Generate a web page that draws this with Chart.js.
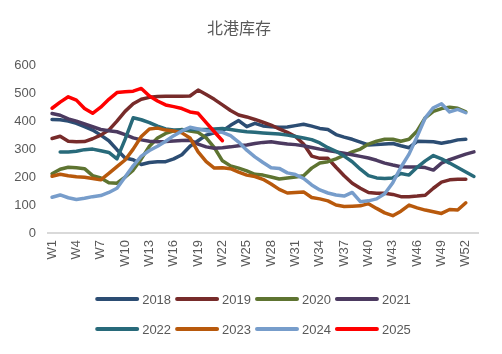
<!DOCTYPE html>
<html>
<head>
<meta charset="utf-8">
<script src="https://cdn.jsdelivr.net/npm/chart.js@4/dist/chart.umd.min.js"></script>
<style>
html, body { margin: 0; padding: 0; background: #fff; }
</style>
</head>
<body>
<canvas id="chart" width="502" height="354"></canvas>
<script>
// weeks W1..W53, only every third one gets a tick label
const weeks = [];
for (let i = 1; i <= 53; i++) weeks.push('W' + i);

const years = ['2018', '2019', '2020', '2021', '2022', '2023', '2024', '2025'];
const colors = ['#2C4D73', '#772B2A', '#5E7431', '#4C3A60', '#286A7A', '#B8590C', '#779DCB', '#FF0000'];

const y2018 = [406,405,400,392,380,368,350,330,298,268, 262,245,252,255,255,265,280,310,330,350,
  358,365,385,402,380,392,383,380,378,379, 384,389,382,374,370,352,343,335,325,315,
  316,318,320,312,305,328,327,326,321,326, 333,335];
const y2019 = [338,346,328,326,327,337,350,368,400,435, 462,478,485,488,489,489,489,490,511,495,
  478,458,438,422,415,406,396,386,372,360, 345,318,275,267,267,235,205,178,160,145,
  142,142,138,130,130,132,135,160,182,190, 192,192];
const y2020 = [212,228,235,233,230,205,197,180,178,200, 225,265,310,340,356,365,370,365,360,340,
  305,258,240,232,222,210,207,200,193,197, 200,205,232,250,255,265,278,290,300,318,
  328,335,335,328,335,365,412,435,445,450, 446,433];
const y2021 = [427,421,408,400,390,380,370,366,362,352, 340,333,328,326,327,329,331,332,318,308,
  303,305,308,312,315,320,324,326,322,318, 316,312,306,300,295,290,285,280,274,268,
  260,250,243,237,236,236,234,225,250,262, 272,282,290];
const y2022 = [null,290,290,292,298,300,294,288,265,335, 412,405,395,382,372,368,368,370,370,370,
  372,374,370,366,362,360,358,356,354,350, 345,340,334,322,305,292,275,255,228,205,
  197,195,197,213,207,235,258,277,265,250, 234,218,202];
const y2023 = [203,210,205,201,199,195,190,213,237,261, 300,345,372,375,368,365,358,340,290,255,
  232,233,230,218,207,202,192,175,156,143, 145,147,127,122,115,100,95,96,97,105,
  88,72,62,78,100,90,82,76,70,84, 82,108];
const y2024 = [128,136,126,120,124,130,134,145,160,200, 240,275,295,310,328,348,365,378,372,366,
  362,360,348,325,296,272,252,233,231,215, 209,195,172,154,143,136,132,145,112,115,
  122,140,180,235,282,345,412,448,462,433, 442,430];
const y2025 = [446,468,487,475,445,428,450,478,502,505, 507,517,490,472,458,452,445,433,428,395,
  362,330];

const series = [y2018, y2019, y2020, y2021, y2022, y2023, y2024, y2025];

const gray = '#595959';

// two-row legend like the original (4 per row, long rounded line keys)
const rowLegend = {
  id: 'rowLegend',
  afterDraw(chart) {
    const ctx = chart.ctx;
    const sets = chart.data.datasets;
    ctx.save();
    ctx.font = '13px "Liberation Sans", Arial, sans-serif';
    ctx.textBaseline = 'middle';
    for (let r = 0; r < 2; r++) {
      const items = sets.slice(r * 4, r * 4 + 4);
      const widths = items.map(d => 44 + 3 + ctx.measureText(d.label).width + 4);
      const total = widths.reduce((a, b) => a + b, 0) - 4;
      let x = (chart.width - total) / 2 + 2;
      const y = 299 + r * 30;
      items.forEach((d, k) => {
        ctx.strokeStyle = d.borderColor;
        ctx.lineWidth = 4;
        ctx.lineCap = 'round';
        ctx.beginPath();
        ctx.moveTo(x + 2, y);
        ctx.lineTo(x + 42, y);
        ctx.stroke();
        ctx.fillStyle = gray;
        ctx.fillText(d.label, x + 47, y + 1);
        x += widths[k];
      });
    }
    ctx.restore();
  }
};

new Chart(document.getElementById('chart'), {
  type: 'line',
  data: {
    labels: weeks,
    datasets: years.map((yr, i) => ({
      label: yr,
      data: series[i],
      borderColor: colors[i],
      backgroundColor: colors[i],
      borderWidth: 3.5,
      pointRadius: 0,
      tension: 0,
      borderCapStyle: 'round',
      borderJoinStyle: 'round',
      spanGaps: false,
      order: years.length - i
    }))
  },
  options: {
    responsive: false,
    animation: false,
    layout: { padding: { top: 0, right: 24, bottom: 80, left: 0 } },
    plugins: {
      legend: { display: false },
      tooltip: { enabled: false },
      title: {
        display: true,
        text: '北港库存',
        color: gray,
        font: { family: '"Noto Sans CJK SC", sans-serif', size: 16, weight: 'normal' },
        padding: { top: 18, bottom: 28 }
      }
    },
    scales: {
      x: {
        offset: true,
        grid: { display: false, drawTicks: false },
        border: { display: true, color: '#D9D9D9', width: 2 },
        ticks: {
          autoSkip: false,
          minRotation: 90,
          maxRotation: 90,
          padding: 7,
          color: gray,
          font: { family: '"Liberation Sans", Arial, sans-serif', size: 13 },
          callback: function (val, i) { return i % 3 === 0 ? this.getLabelForValue(val) : ''; }
        },
        afterFit: s => { s.height = 41; }
      },
      y: {
        min: 0,
        max: 600,
        grid: { display: false, drawTicks: false },
        border: { display: false },
        ticks: {
          stepSize: 100,
          padding: 12,
          color: gray,
          font: { family: '"Liberation Sans", Arial, sans-serif', size: 13 }
        },
        afterFit: s => { s.width = 48; }
      }
    }
  },
  plugins: [rowLegend]
});
</script>
</body>
</html>
